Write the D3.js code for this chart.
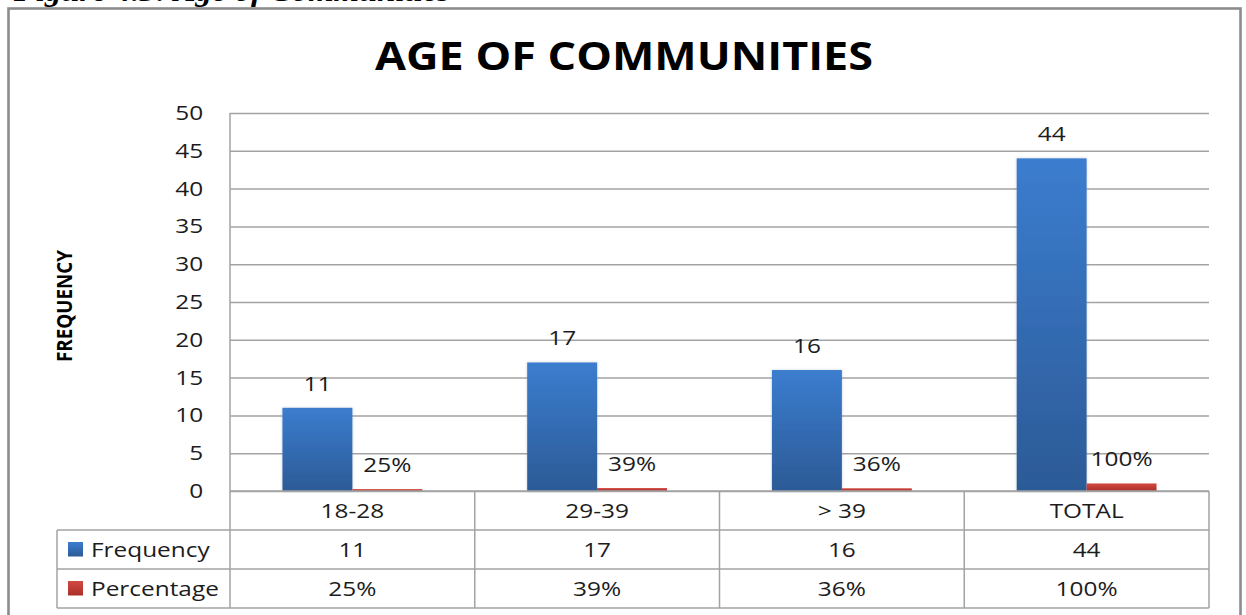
<!DOCTYPE html>
<html>
<head>
<meta charset="utf-8">
<script src="https://cdn.jsdelivr.net/npm/d3@7"></script>
<style>
  html, body { margin: 0; padding: 0; background: #fff; }
  svg { display: block; }
</style>
</head>
<body>
<svg id="chart" width="1246" height="615"></svg>
<script>
// ---- data ----
const categories = ["18-28", "29-39", "> 39", "TOTAL"];
const frequency = [11, 17, 16, 44];
const percentage = [0.25, 0.39, 0.36, 1.00];
const seriesNames = ["Frequency", "Percentage"];
const yTicks = [0, 5, 10, 15, 20, 25, 30, 35, 40, 45, 50];

const titleText = "AGE OF COMMUNITIES";
const axisTitle = "FREQUENCY";
const captionText = "Figure 4.3: Age of Communities";

// ---- layout ----
const W = 1246, H = 615;
const plot = { left: 230, right: 1209, top: 113, bottom: 491 };
const rowH = 39;
const legendLeft = 57;
const SX = 1.22;               // horizontal stretch of all glyphs
const FONT = "'Open Sans', 'DejaVu Sans', sans-serif";
const TEXT = "#1c1c1c";
const GRID = "#a3a3a3";

const svg = d3.select("#chart");

// text helper: positions via transform so glyphs can be widened
function label(sel, x, y, s, o = {}) {
  return sel.append("text")
    .attr("transform", `translate(${x},${y}) scale(${o.sx ?? SX},1)` + (o.rotate ? ` rotate(${o.rotate})` : ""))
    .attr("text-anchor", o.anchor || "middle")
    .attr("font-family", o.family || FONT)
    .attr("font-size", o.size || 20)
    .attr("font-weight", o.weight || 400)
    .attr("font-style", o.style || "normal")
    .attr("fill", o.fill || TEXT)
    .text(s);
}

// ---- gradients & effects ----
const defs = svg.append("defs");
function vGrad(id, top, bottom) {
  const g = defs.append("linearGradient").attr("id", id)
    .attr("x1", 0).attr("y1", 0).attr("x2", 0).attr("y2", 1);
  g.append("stop").attr("offset", "0%").attr("stop-color", top);
  g.append("stop").attr("offset", "100%").attr("stop-color", bottom);
}
vGrad("gFreq", "#3b7dcf", "#2c5a96");
vGrad("gPct", "#d24a42", "#a9302a");
const shadow = defs.append("filter").attr("id", "soft")
  .attr("x", "-20%").attr("y", "-5%").attr("width", "140%").attr("height", "110%");
shadow.append("feDropShadow").attr("dx", 0).attr("dy", 0)
  .attr("stdDeviation", 1.6).attr("flood-color", "#7f95b3").attr("flood-opacity", 0.45);

// ---- caption strip above the frame (page crop leaves only its lower edge) ----
svg.append("text")
  .attr("x", 14).attr("y", 1)
  .attr("font-family", "'Liberation Serif', 'DejaVu Serif', serif")
  .attr("font-size", 30).attr("font-weight", 700).attr("font-style", "italic")
  .attr("textLength", 436).attr("lengthAdjust", "spacingAndGlyphs")
  .attr("fill", "#000")
  .text(captionText);

// ---- outer chart frame ----
svg.append("rect")
  .attr("x", 8.5).attr("y", 8.5)
  .attr("width", 1240.5 - 8.5).attr("height", H + 20)
  .attr("fill", "#fff").attr("stroke", "#8c8c8c").attr("stroke-width", 2.6);

// ---- title ----
svg.append("text")
  .attr("x", 624).attr("y", 70)
  .attr("text-anchor", "middle")
  .attr("font-family", FONT).attr("font-size", 39).attr("font-weight", 700)
  .attr("textLength", 498).attr("lengthAdjust", "spacingAndGlyphs")
  .attr("fill", "#000")
  .text(titleText);

// ---- scales ----
const y = d3.scaleLinear().domain([0, 50]).range([plot.bottom, plot.top]);
const x = d3.scaleBand().domain(categories).range([plot.left, plot.right]).padding(0);
const xs = d3.scaleBand().domain(seriesNames).range([0, x.bandwidth()])
  .paddingInner(0).paddingOuter(0.75);

// ---- value axis with gridlines ----
const plotW = plot.right - plot.left;
const yAxis = svg.append("g")
  .attr("transform", `translate(${plot.left},0)`)
  .call(d3.axisLeft(y).tickValues(yTicks).tickSize(-plotW).tickPadding(22));
yAxis.select(".domain").remove();
yAxis.selectAll(".tick line").attr("stroke", GRID).attr("stroke-width", 1.5);
yAxis.selectAll(".tick text")
  .attr("font-family", FONT).attr("font-size", 20).attr("fill", TEXT)
  .attr("transform", `scale(${SX},1)`);

svg.append("line")
  .attr("x1", plot.left).attr("x2", plot.left)
  .attr("y1", plot.top).attr("y2", plot.bottom)
  .attr("stroke", GRID).attr("stroke-width", 1.5);

// axis title
svg.append("text")
  .attr("transform", `translate(71.5,${(plot.top + plot.bottom) / 2 + 4}) scale(${SX},1) rotate(-90)`)
  .attr("text-anchor", "middle")
  .attr("font-family", FONT).attr("font-size", 17.5).attr("font-weight", 700)
  .attr("textLength", 112).attr("lengthAdjust", "spacingAndGlyphs")
  .attr("fill", "#000")
  .text(axisTitle);

// ---- bars ----
const rows = categories.map((c, i) => ({ c, f: frequency[i], p: percentage[i] }));
const groups = svg.append("g").selectAll("g").data(rows).join("g")
  .attr("transform", d => `translate(${x(d.c)},0)`);

groups.append("rect")
  .attr("x", xs("Frequency")).attr("width", xs.bandwidth())
  .attr("y", d => y(d.f)).attr("height", d => y(0) - y(d.f))
  .attr("fill", "url(#gFreq)").attr("filter", "url(#soft)");

groups.append("rect")
  .attr("x", xs("Percentage")).attr("width", xs.bandwidth())
  .attr("y", d => y(d.p)).attr("height", d => y(0) - y(d.p))
  .attr("fill", "url(#gPct)");

const pctFmt = d3.format(".0%");
groups.each(function (d) {
  const g = d3.select(this);
  label(g, xs("Frequency") + xs.bandwidth() / 2, y(d.f) - 17, d.f);
  label(g, xs("Percentage") + xs.bandwidth() / 2, y(d.p) - 17, pctFmt(d.p));
});

// ---- data table ----
const t0 = plot.bottom;
const tb = svg.append("g").attr("stroke", GRID).attr("stroke-width", 1.5);
tb.append("line").attr("x1", plot.left).attr("x2", plot.right).attr("y1", t0).attr("y2", t0);
[1, 2, 3].forEach(r => {
  tb.append("line").attr("x1", legendLeft).attr("x2", plot.right)
    .attr("y1", t0 + r * rowH).attr("y2", t0 + r * rowH);
});
tb.append("line").attr("x1", legendLeft).attr("x2", legendLeft)
  .attr("y1", t0 + rowH).attr("y2", t0 + 3 * rowH);
categories.forEach(c => {
  tb.append("line").attr("x1", x(c)).attr("x2", x(c)).attr("y1", t0).attr("y2", t0 + 3 * rowH);
});
tb.append("line").attr("x1", plot.right).attr("x2", plot.right).attr("y1", t0).attr("y2", t0 + 3 * rowH);

const midY = r => t0 + r * rowH + rowH / 2 + 7;
categories.forEach((c, i) => {
  const cx = x(c) + x.bandwidth() / 2;
  label(svg, cx, midY(0), c);
  label(svg, cx, midY(1), frequency[i]);
  label(svg, cx, midY(2), pctFmt(percentage[i]));
});

// legend keys inside the table
[["Frequency", "url(#gFreq)"], ["Percentage", "url(#gPct)"]].forEach(([name, fill], i) => {
  const cy = t0 + (i + 1) * rowH + rowH / 2;
  svg.append("rect").attr("x", 68).attr("y", cy - 7.5).attr("width", 15).attr("height", 14.5)
    .attr("fill", fill);
  label(svg, 91, cy + 7, name, { anchor: "start" });
});
</script>
</body>
</html>
